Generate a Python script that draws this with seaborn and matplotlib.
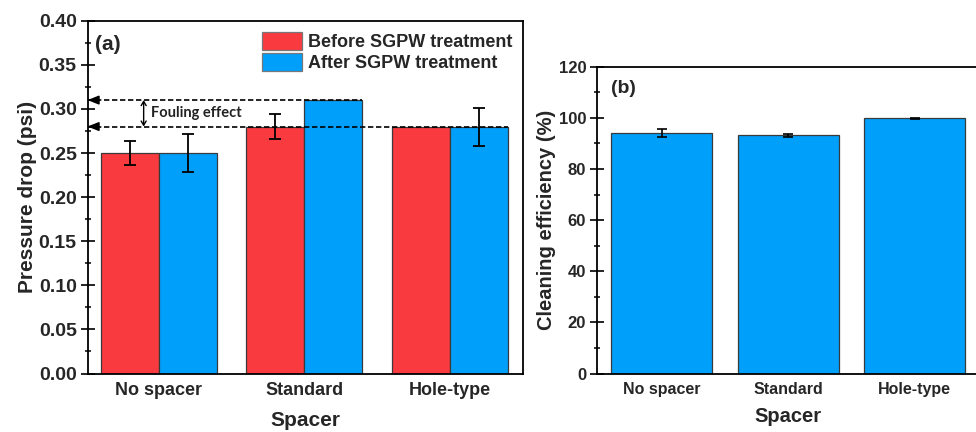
import numpy as np
import pandas as pd
import matplotlib
matplotlib.use("Agg")
import matplotlib.pyplot as plt
import seaborn as sns

# ---- data ----
spacers = ["No spacer", "Standard", "Hole-type"]
conditions = ["Before SGPW treatment", "After SGPW treatment"]
before_mean = [0.25, 0.28, 0.28]
before_err = [0.014, 0.0145, 0.0]
after_mean = [0.25, 0.31, 0.28]
after_err = [0.021, 0.0, 0.0215]
clean_mean = [94.2, 93.2, 99.8]
clean_err = [1.6, 0.6, 0.1]

red = "#F93B3F"
blue = "#00A0FA"
edge = "#3a3a3a"

sns.set_theme(style="ticks")
plt.rcParams["font.family"] = ["Liberation Sans", "DejaVu Sans"]
plt.rcParams["font.weight"] = "bold"
plt.rcParams["axes.labelweight"] = "bold"

fig = plt.figure(figsize=(9.76, 4.32), dpi=100)
W, H = 976.0, 432.0
axA = fig.add_axes([87.5 / W, 1 - 373.5 / H, (522.5 - 87.5) / W, (373.5 - 20.7) / H])
axB = fig.add_axes([597 / W, 1 - 373.5 / H, (978 - 597) / W, (373.5 - 66.7) / H])

# ---- panel (a) ----
dfA = pd.DataFrame({
    "Spacer": spacers * 2,
    "Condition": [conditions[0]] * 3 + [conditions[1]] * 3,
    "Pressure": before_mean + after_mean,
})
sns.barplot(data=dfA, x="Spacer", y="Pressure", hue="Condition", order=spacers,
            hue_order=conditions, palette=[red, blue], errorbar=None,
            edgecolor=edge, linewidth=0.9, saturation=1, width=0.8, ax=axA)

patches = [p for p in axA.patches if p.get_height() > 0]
patches = sorted(patches, key=lambda p: p.get_x())
errs = [before_err[0], after_err[0], before_err[1], after_err[1], before_err[2], after_err[2]]
for p, e in zip(patches, errs):
    if e > 0:
        axA.errorbar(p.get_x() + p.get_width() / 2, p.get_height(), yerr=e,
                     fmt="none", ecolor="black", elinewidth=1.3, capsize=4.2, capthick=1.3)

axA.set_xlim(-0.49, 2.5)
axA.set_ylim(0, 0.40)
axA.set_yticks(np.arange(0, 0.401, 0.05))
axA.set_yticklabels([f"{v:.2f}" for v in np.arange(0, 0.401, 0.05)])
axA.yaxis.set_minor_locator(matplotlib.ticker.MultipleLocator(0.025))
axA.set_xlabel("Spacer", fontsize=15, labelpad=9)
axA.set_ylabel("Pressure drop (psi)", fontsize=15, labelpad=1)

# fouling arrows
x0 = axA.get_xlim()[0]
std_after = patches[3]
hole_after = patches[5]
for yv, xe in [(after_mean[1], std_after.get_x() + std_after.get_width()),
               (after_mean[2], hole_after.get_x() + hole_after.get_width())]:
    axA.hlines(yv, x0, xe, colors="black", linestyles=(0, (3.2, 1.6)), lw=1.2, zorder=4)
    axA.annotate("", xy=(x0, yv), xytext=(x0 + 0.06, yv),
                 arrowprops=dict(arrowstyle="-|>,head_length=0.55,head_width=0.22",
                                 color="black", lw=1.2, shrinkA=0, shrinkB=0), zorder=5)
xa = -0.104
axA.annotate("", xy=(xa, after_mean[1]), xytext=(xa, before_mean[1]),
             arrowprops=dict(arrowstyle="<->,head_length=0.25,head_width=0.15",
                             color="black", lw=1.0, shrinkA=0, shrinkB=0))
axA.text(xa + 0.053, (after_mean[1] + before_mean[1]) / 2, "Fouling effect",
         fontsize=10.5, fontweight="bold", family=["Lato", "DejaVu Sans"],
         ha="left", va="center", color="#222222")

axA.text(0.0166, 0.932, "(a)", transform=axA.transAxes, fontsize=15,
         fontweight="bold", ha="left", va="center")

leg = axA.legend(loc="upper left", bbox_to_anchor=(0.375, 1.0), frameon=False,
                 fontsize=13, handlelength=2.2, handleheight=1.1,
                 labelspacing=0.12, handletextpad=0.35, borderaxespad=0.25)
for h in leg.legend_handles:
    h.set_edgecolor("#777777")
for t in leg.get_texts():
    t.set_fontweight("bold")

# ---- panel (b) ----
dfB = pd.DataFrame({"Spacer": spacers, "Efficiency": clean_mean})
sns.barplot(data=dfB, x="Spacer", y="Efficiency", order=spacers, color=blue,
            errorbar=None, edgecolor=edge, linewidth=0.9, saturation=1, width=0.8, ax=axB)
pb = sorted([p for p in axB.patches], key=lambda p: p.get_x())
for p, e in zip(pb, clean_err):
    axB.errorbar(p.get_x() + p.get_width() / 2, p.get_height(), yerr=e,
                 fmt="none", ecolor="black", elinewidth=1.2, capsize=3.5, capthick=1.2)
axB.set_xlim(-0.51, 2.5)
axB.set_ylim(0, 120)
axB.set_yticks(np.arange(0, 121, 20))
axB.yaxis.set_minor_locator(matplotlib.ticker.MultipleLocator(10))
axB.set_xlabel("Spacer", fontsize=14.5, labelpad=7)
axB.set_ylabel("Cleaning efficiency (%)", fontsize=14.5, labelpad=2)
axB.text(0.037, 0.93, "(b)", transform=axB.transAxes, fontsize=14,
         fontweight="bold", ha="left", va="center")

for ax, fs_y, fs_x, xpad in [(axA, 14, 13, 6), (axB, 12, 11.5, 6)]:
    for s in ax.spines.values():
        s.set_linewidth(1.3)
        s.set_color("black")
    ax.tick_params(axis="y", which="major", direction="inout", length=9.5, width=1.2,
                   labelsize=fs_y, pad=3, color="black")
    ax.tick_params(axis="y", which="minor", direction="inout", length=5, width=1.1, color="black")
    ax.tick_params(axis="x", which="both", length=0, labelsize=fs_x, pad=xpad)
    for lbl in ax.get_xticklabels() + ax.get_yticklabels():
        lbl.set_fontweight("bold")
axB.spines["right"].set_visible(False)

fig.savefig("out.png", dpi=100)
